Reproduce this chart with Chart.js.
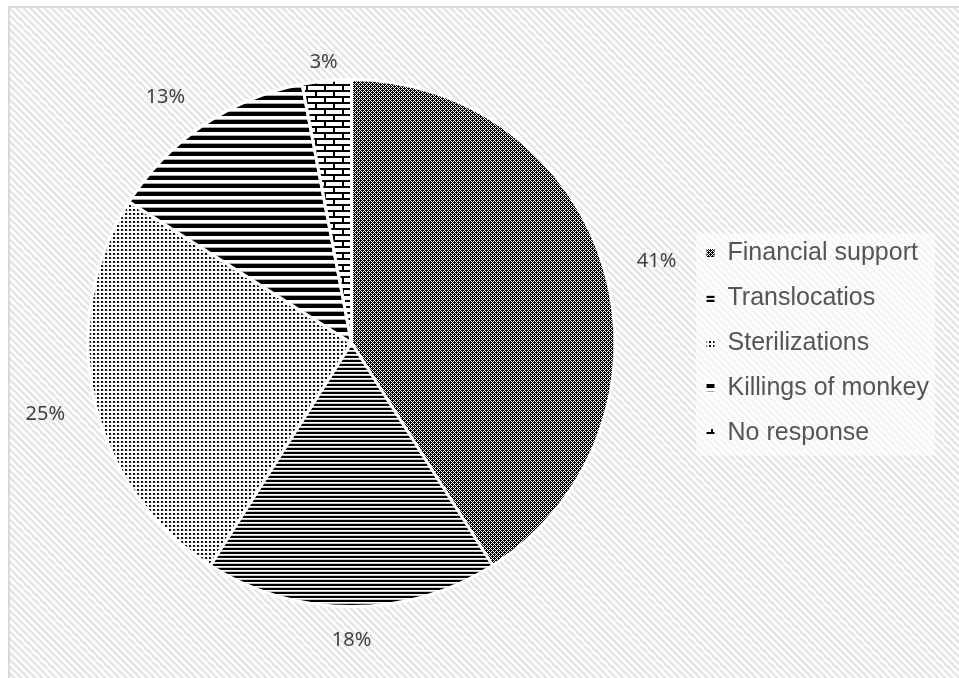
<!DOCTYPE html>
<html>
<head>
<meta charset="utf-8">
<script src="https://cdn.jsdelivr.net/npm/chart.js@4.4.1/dist/chart.umd.min.js"></script>
<style>
  html, body { margin: 0; padding: 0; background: #fff; }
  canvas { display: block; }
</style>
</head>
<body>
<canvas id="pieChart" width="959" height="678"></canvas>
<script>
// Survey answers: preferred way of dealing with the monkey problem
const categories = ['Financial support', 'Translocatios', 'Sterilizations', 'Killings of monkey', 'No response'];
const shares = [41, 18, 25, 13, 3];

// where each percentage label sits, as [dx, dy] from the rim point at the slice middle
const labelOffset = [[52, -8], [0, 34], [-49, 14], [-38, -28], [-3, -18]];

// build a repeating fill from a small pixel tile
function makePattern(w, h, paint) {
    const tile = document.createElement('canvas');
    tile.width = w;
    tile.height = h;
    const t = tile.getContext('2d');
    t.fillStyle = '#fff';
    t.fillRect(0, 0, w, h);
    paint(t, (x, y, c) => { t.fillStyle = c; t.fillRect(x, y, 1, 1); });
    return document.createElement('canvas').getContext('2d').createPattern(tile, 'repeat');
}

// mostly black with a lattice of white dots
const checkFill = makePattern(8, 8, (t, px) => {
    for (let y = 0; y < 8; y++) {
        for (let x = 0; x < 8; x++) {
            const white = (x % 2 === 1 && y % 2 === 1) ||
                (x % 4 === 0 && y % 4 === 2) || (x % 4 === 2 && y % 4 === 0);
            px(x, y, white ? '#fff' : '#000');
        }
    }
});

// thin horizontal lines
const thinStripes = makePattern(1, 4, (t, px) => {
    px(0, 0, '#000');
    px(0, 1, '#000');
    px(0, 3, '#c8c8c8');
});

// small dots on white
const dotFill = makePattern(4, 4, (t, px) => {
    px(1, 1, '#000');
    px(2, 1, '#000');
    px(1, 2, '#111');
    px(2, 2, '#333');
    px(3, 2, '#bbb');
});

// wide horizontal lines
const wideStripes = makePattern(1, 8, (t, px) => {
    for (let y = 0; y < 4; y++) px(0, y, '#000');
    px(0, 7, '#aaa');
});

// brick wall
const brickFill = makePattern(18, 12, (t) => {
    t.fillStyle = '#000';
    t.fillRect(0, 0, 18, 2);
    t.fillRect(0, 6, 18, 2);
    t.fillRect(0, 2, 2, 4);
    t.fillRect(9, 8, 2, 4);
});

// faint diagonal hatching behind the whole chart
const hatch = makePattern(7, 7, (t, px) => {
    for (let y = 0; y < 7; y++) {
        for (let x = 0; x < 7; x++) {
            const d = ((x - y) % 7 + 7) % 7;
            if (d < 3) px(x, y, '#e6e6e6');
            else if (d === 3) px(x, y, '#f1f1f1');
        }
    }
});

const sliceFills = [checkFill, thinStripes, dotFill, wideStripes, brickFill];

// page background, frame and the pale panel under the legend
const backdrop = {
    id: 'backdrop',
    beforeDraw(chart) {
        const ctx = chart.ctx;
        ctx.save();
        ctx.fillStyle = '#fff';
        ctx.fillRect(0, 0, chart.width, chart.height);
        ctx.fillStyle = hatch;
        ctx.fillRect(9, 7, chart.width, chart.height);
        ctx.strokeStyle = '#d9d9d9';
        ctx.lineWidth = 2;
        ctx.beginPath();
        ctx.moveTo(9, chart.height);
        ctx.lineTo(9, 7);
        ctx.lineTo(chart.width, 7);
        ctx.stroke();

        const boxes = chart.legend && chart.legend.legendHitBoxes;
        if (boxes && boxes.length) {
            const left = Math.min(...boxes.map(b => b.left)) - 10;
            const top = Math.min(...boxes.map(b => b.top)) - 7;
            const right = Math.max(...boxes.map(b => b.left + b.width)) + 6;
            const bottom = Math.max(...boxes.map(b => b.top + b.height)) + 10;
            ctx.fillStyle = 'rgba(255, 255, 255, 0.6)';
            ctx.fillRect(left, top, right - left, bottom - top);
        }
        ctx.restore();
    }
};

// percentage labels just outside each slice
const sliceLabels = {
    id: 'sliceLabels',
    afterDatasetsDraw(chart) {
        const ctx = chart.ctx;
        const meta = chart.getDatasetMeta(0);
        ctx.save();
        ctx.font = '20px "Noto Sans", "Open Sans", sans-serif';
        ctx.fillStyle = '#404040';
        ctx.textAlign = 'center';
        ctx.textBaseline = 'middle';
        meta.data.forEach((arc, i) => {
            const { x, y, startAngle, endAngle, outerRadius } =
                arc.getProps(['x', 'y', 'startAngle', 'endAngle', 'outerRadius'], true);
            const mid = (startAngle + endAngle) / 2;
            const rimX = x + Math.cos(mid) * outerRadius;
            const rimY = y + Math.sin(mid) * outerRadius;
            ctx.fillText(shares[i] + '%', rimX + labelOffset[i][0], rimY + labelOffset[i][1]);
        });
        ctx.restore();
    }
};

const ctx = document.getElementById('pieChart').getContext('2d');
new Chart(ctx, {
    type: 'pie',
    data: {
        labels: categories,
        datasets: [{
            data: shares,
            backgroundColor: sliceFills,
            borderColor: '#fff',
            borderWidth: 3
        }]
    },
    options: {
        responsive: false,
        animation: false,
        events: [],
        layout: {
            padding: { top: 78, bottom: 70, left: 17, right: 20 }
        },
        plugins: {
            legend: {
                position: 'right',
                labels: {
                    boxWidth: 9,
                    boxHeight: 9,
                    padding: 20,
                    color: '#555555',
                    font: { family: '"Liberation Sans", Arial, sans-serif', size: 25 },
                    generateLabels(chart) {
                        const items = Chart.overrides.pie.plugins.legend.labels.generateLabels(chart);
                        items.forEach(item => { item.lineWidth = 1; });
                        return items;
                    }
                }
            },
            tooltip: { enabled: false }
        }
    },
    plugins: [backdrop, sliceLabels]
});
</script>
</body>
</html>
